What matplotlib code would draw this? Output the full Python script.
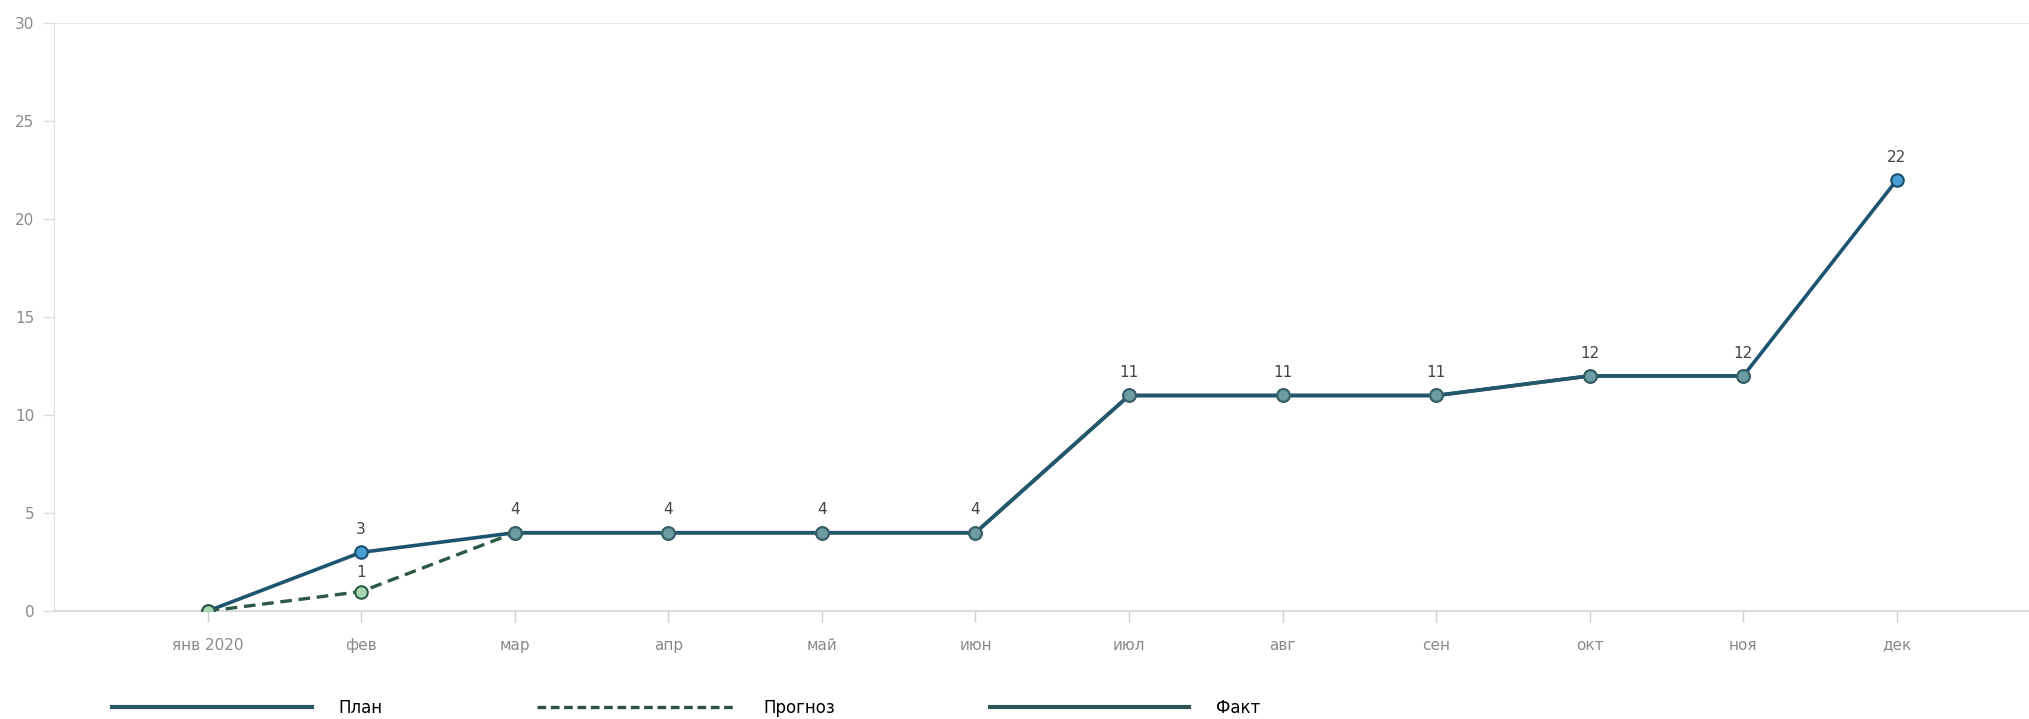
import numpy as np
import matplotlib
matplotlib.use("Agg")
import matplotlib.pyplot as plt

# === Data ===
months = ["янв 2020", "фев", "мар", "апр", "май", "июн",
          "июл", "авг", "сен", "окт", "ноя", "дек"]
plan = [0, 3, 4, 4, 4, 4, 11, 11, 11, 12, 12, 22]
forecast = [0, 1, 4, np.nan, np.nan, np.nan, np.nan, np.nan, np.nan, np.nan, np.nan, np.nan]
fact = [np.nan, np.nan, 4, 4, 4, 4, 11, 11, 11, 12, 12, np.nan]
legend_labels = ["План", "Прогноз", "Факт"]

x = np.arange(len(months))

fig = plt.figure(figsize=(20.29, 7.19), dpi=100)
ax = fig.add_axes([0.0266, 0.150, 0.9734, 0.818])

# === Lines ===
plan_line, = ax.plot(x, plan, color="#1d5472", lw=2.6, marker="o", ms=9,
                     mfc="#4a9fd2", mec="#1d4f6a", mew=1.5, zorder=3)
fc_line, = ax.plot(x, forecast, color="#2c5a44", lw=2.4, ls=(0, (3.5, 2)),
                   marker="o", ms=9, mfc="#a6d8b2", mec="#2c5a44", mew=1.5, zorder=4)
fact_line, = ax.plot(x, fact, color="#22586a", lw=2.6, marker="o", ms=9,
                     mfc="#6b9da3", mec="#3b6168", mew=1.5, zorder=5)

# === Data labels ===
for xi, v in zip(x[1:], plan[1:]):
    ax.annotate(str(v), (xi, v), xytext=(0, 11), textcoords="offset points",
                ha="center", va="bottom", fontsize=11, color="#444444")
ax.annotate(str(forecast[1]), (x[1], forecast[1]), xytext=(0, 8),
            textcoords="offset points", ha="center", va="bottom",
            fontsize=11, color="#444444")

# === Axes styling ===
ax.set_xlim(-1, 11.86)
ax.set_ylim(0, 30)
ax.set_xticks(x)
ax.set_xticklabels(months, fontsize=11, color="#8a8a8a")
ax.set_yticks([0, 5, 10, 15, 20, 25, 30])
ax.tick_params(axis="y", labelsize=11, labelcolor="#8a8a8a", color="#dddddd",
               length=8, width=1, pad=6)
ax.tick_params(axis="x", color="#cccccc", length=8, width=1, pad=11)
for side in ["top", "right"]:
    ax.spines[side].set_visible(False)
ax.spines["left"].set_color("#e2e2e2")
ax.spines["bottom"].set_color("#dcdcdc")
ax.spines["bottom"].set_linewidth(1.5)
ax.axhline(30, color="#e6e6e6", lw=1.2, zorder=0)
ax.patch.set_alpha(0)

# === Legend ===
fig.legend([plt.Line2D([], [], color="#2a5668", lw=3),
            plt.Line2D([], [], color="#2c4f47", lw=2.4, ls=(0, (2.6, 1.4))),
            plt.Line2D([], [], color="#2e5553", lw=3)],
           legend_labels, loc="lower left", bbox_to_anchor=(0.048, -0.018),
           ncol=3, frameon=False, fontsize=12, handlelength=11.95,
           handletextpad=1.6, columnspacing=9.3)

plt.savefig("out.png", dpi=100)
